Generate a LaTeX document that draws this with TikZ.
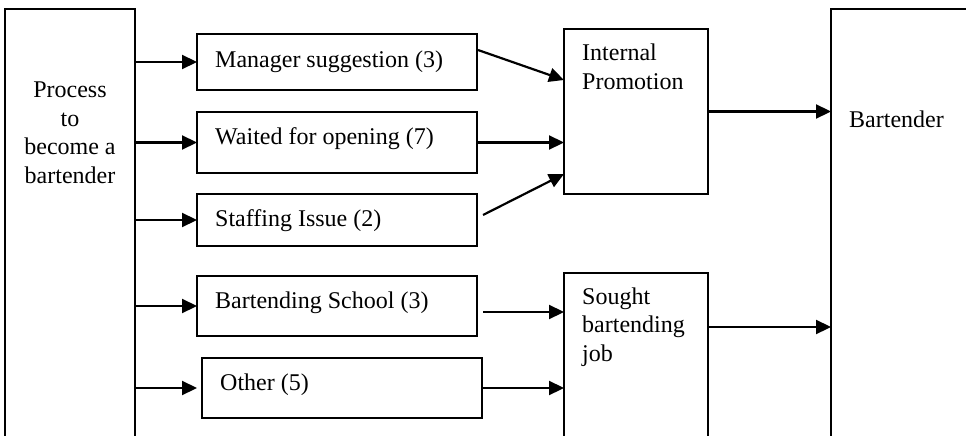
\documentclass[tikz,border=0pt]{standalone}
\usepackage{fontspec}
\setmainfont{Liberation Serif}
\usetikzlibrary{arrows.meta,calc}

\begin{document}
\begin{tikzpicture}[x=1pt, y=-1pt, node font=\fontsize{24}{28.5}\selectfont,
	box/.style={draw, line width=1.6pt, rectangle, anchor=north west, inner sep=0pt, outer sep=0pt},
	txt/.style 2 args={label={[anchor=base west, inner sep=0pt, align=left, xshift=18pt, yshift=-#2pt]north west:#1}},
	arr/.style={line width=2.2pt, -{Triangle[length=15pt, width=14pt]}}]
	\path[use as bounding box] (0,0) rectangle (966,436);
	\clip (0,0) rectangle (966,436);
	
	\node[box, minimum width=130pt, minimum height=460pt, label={[anchor=base, align=center, inner sep=0pt, yshift=-174pt]north:Process\\to\\become a\\bartender}] (proc) at (5,9) {};
	
	\node[box, minimum width=280pt, minimum height=56pt, txt={Manager suggestion (3)}{33}] (mgr) at (197,34) {};
	\node[box, minimum width=280pt, minimum height=61pt, txt={Waited for opening (7)}{32}] (wait) at (197,112) {};
	\node[box, minimum width=280pt, minimum height=52pt, txt={Staffing Issue (2)}{32}] (staff) at (197,194) {};
	\node[box, minimum width=280pt, minimum height=60pt, txt={Bartending School (3)}{32}] (school) at (197,276) {};
	\node[box, minimum width=280pt, minimum height=60pt, txt={Other (5)}{32}] (other) at (202,358) {};
	
	\node[box, minimum width=144pt, minimum height=165pt, txt={Internal\\Promotion}{60}] (promo) at (564,29) {};
	\node[box, minimum width=144pt, minimum height=190pt, txt={Sought\\bartending\\job}{88}] (sought) at (564,273) {};
	
	\node[box, minimum width=200pt, minimum height=460pt, txt={Bartender}{118}] (bart) at (831,9) {};
	
	\draw[arr] (proc.east |- mgr.west) -- (mgr.west);
	\draw[arr] (proc.east |- wait.west) -- (wait.west);
	\draw[arr] (proc.east |- staff.west) -- (staff.west);
	\draw[arr] (proc.east |- school.west) -- (school.west);
	\draw[arr, shorten >=5pt] (proc.east |- other.west) -- (other.west);
	
	\draw[arr] ($(mgr.east)+(1,-12)$) -- ($(promo.north west)+(0,51)$);
	\draw[arr] (wait.east) -- (wait.east -| promo.west);
	\draw[arr] ($(staff.east)+(6,-5)$) -- ($(promo.south west)+(0,-20)$);
	\draw[arr] ($(school.east)+(6,6)$) -- ($(sought.west |- school.east)+(0,6)$);
	\draw[arr] (other.east) -- (other.east -| sought.west);
	
	\draw[arr] (promo.east) -- (promo.east -| bart.west);
	\draw[arr] ($(sought.north east)+(0,54)$) -- ($(bart.west |- sought.north east)+(0,54)$);
\end{tikzpicture}
\end{document}
